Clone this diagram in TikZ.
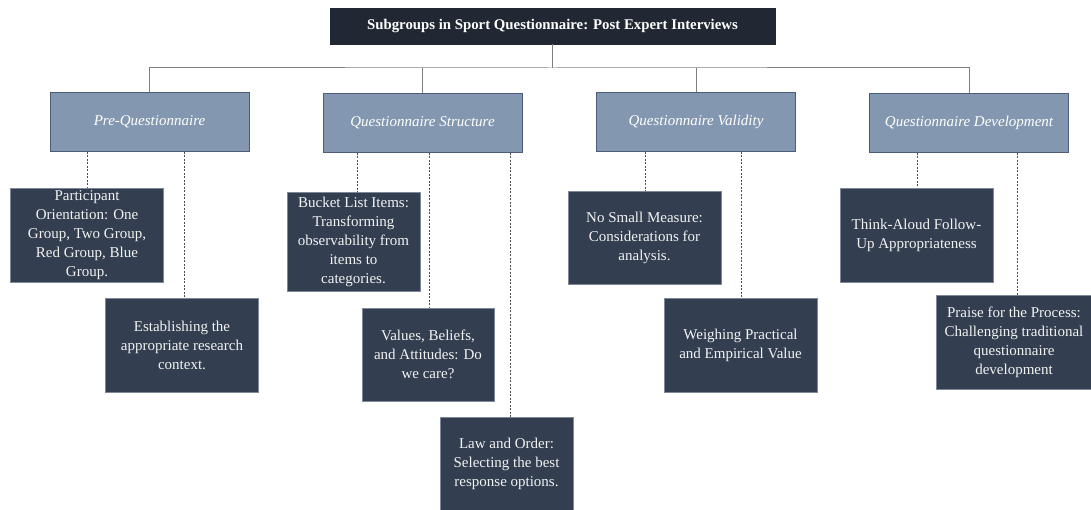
\documentclass[tikz,border=0pt]{standalone}
\usepackage{fontspec}
\setmainfont{Liberation Serif}
\definecolor{titlefill}{HTML}{212834}
\definecolor{headfill}{HTML}{8497B0}
\definecolor{headline}{HTML}{4A5C7A}
\definecolor{leaffill}{HTML}{333F50}
\definecolor{leafline}{HTML}{7D8898}
\definecolor{treeline}{HTML}{7F7F7F}
\definecolor{dashline}{HTML}{4D4D4D}
\definecolor{lighttext}{HTML}{F2F2F2}
\tikzset{
  titlebox/.style={fill=titlefill, draw=titlefill, text=white, inner sep=0pt,
    minimum width=445pt, minimum height=36pt,
    font=\fontsize{14.8}{17}\selectfont\bfseries},
  headbox/.style={fill=headfill, draw=headline, line width=0.8pt, text=white,
    inner sep=0pt, minimum width=199pt, minimum height=59pt,
    font=\fontsize{15}{18}\selectfont\itshape},
  leafbox/.style={fill=leaffill, draw=leafline, line width=0.5pt, text=lighttext,
    inner sep=2pt, align=center, minimum width=153pt, minimum height=94pt,
    font=\fontsize{15}{19}\selectfont},
  treelink/.style={draw=treeline, line width=1pt},
  leaflink/.style={draw=dashline, line width=0.6pt, dash pattern=on 2pt off 1.5pt}
}
\begin{document}
\begin{tikzpicture}[x=1pt, y=-1pt]
  \useasboundingbox (0,0) rectangle (1091,510);

  % root
  \node[titlebox] (root) at (552.5,26) {Subgroups in Sport Questionnaire: Post Expert Interviews};

  % second level
  \node[headbox] (pre) at (149.5,122) {Pre-Questionnaire};
  \node[headbox] (str) at (422.5,123) {Questionnaire Structure};
  \node[headbox] (val) at (696,122)   {Questionnaire Validity};
  \node[headbox] (dev) at (969,123)   {Questionnaire Development};

  % leaves under Pre-Questionnaire
  \node[leafbox] (p1) at (87,235) {Participant\\Orientation: One\\Group, Two Group,\\Red Group, Blue\\Group.};
  \node[leafbox] (p2) at (182,345) {Establishing the\\appropriate research\\context.};

  % leaves under Questionnaire Structure
  \node[leafbox, minimum width=133pt, minimum height=99pt] (s1) at (353.5,241.5) {Bucket List Items:\\Transforming\\observability from\\items to\\categories.};
  \node[leafbox, minimum width=132pt, minimum height=93pt] (s2) at (428,354.5) {Values, Beliefs,\\and Attitudes: Do\\we care?};
  \node[leafbox, minimum width=133pt, minimum height=93pt] (s3) at (506.5,463.5) {Law and Order:\\Selecting the best\\response options.};

  % leaves under Questionnaire Validity
  \node[leafbox, minimum height=93pt] (v1) at (644.5,237.5) {No Small Measure:\\Considerations for\\analysis.};
  \node[leafbox] (v2) at (740.5,345) {Weighing Practical\\and Empirical Value};

  % leaves under Questionnaire Development
  \node[leafbox] (d1) at (916.5,235) {Think-Aloud Follow-\\Up Appropriateness};
  \node[leafbox, minimum width=156pt] (d2) at (1014,342) {Praise for the Process:\\Challenging traditional\\questionnaire\\development};

  % solid tree connectors
  \coordinate (bus) at (552.5,68);
  \draw[treelink] (root.south) -- (bus);
  \draw[treelink] (pre.north) |- (bus) -| (dev.north);
  \draw[treelink] (str.north) -- (str.north |- bus);
  \draw[treelink] (val.north) -- (val.north |- bus);

  % dashed leaf connectors (with a small sideways offset where the drop is off-centre)
  \foreach \h/\l/\o in {pre/p1/0, pre/p2/2, str/s1/3.5, str/s2/1, str/s3/3.5,
                        val/v1/0.5, val/v2/0.5, dev/d1/0.5, dev/d2/3}
    \draw[leaflink] ([xshift=\o pt]\h.south -| \l.north) -- ([xshift=\o pt]\l.north);
\end{tikzpicture}
\end{document}
